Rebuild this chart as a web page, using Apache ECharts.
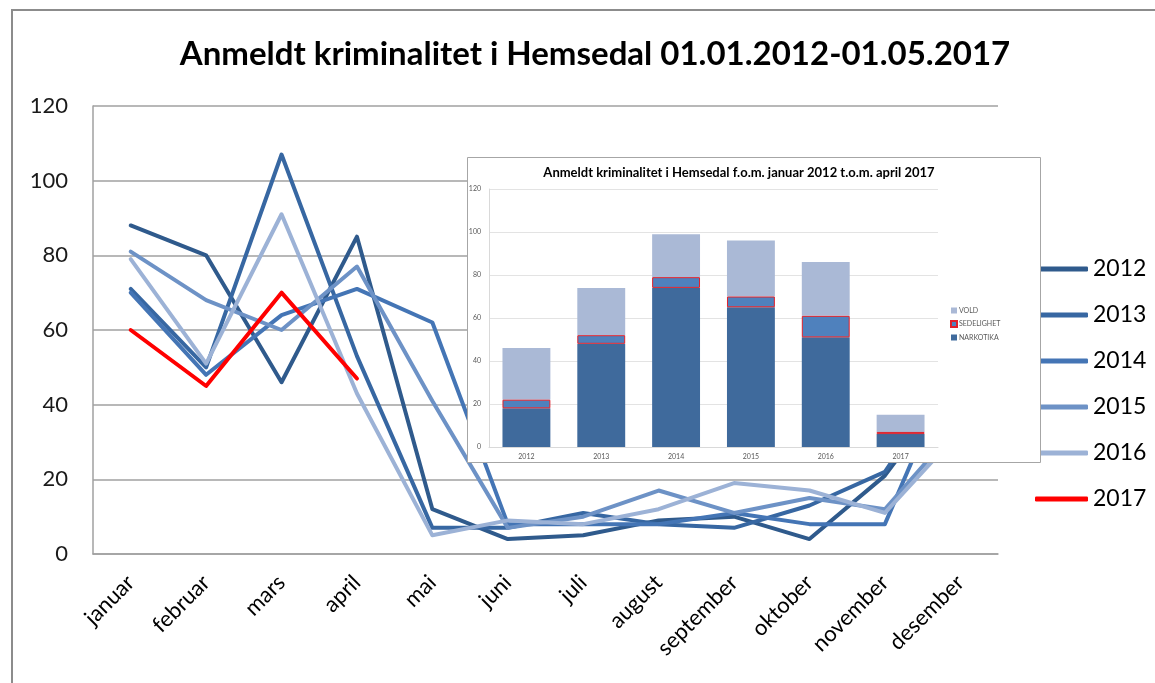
<!DOCTYPE html>
<html>
<head>
<meta charset="utf-8">
<script src="https://cdn.jsdelivr.net/npm/echarts@6/dist/echarts.min.js"></script>
<style>html,body{margin:0;padding:0;background:#fff;}#c{width:1155px;height:683px;}</style>
</head>
<body>
<div id="c"></div>
<script>
// ---- Main line chart data ----
var months = ['januar','februar','mars','april','mai','juni','juli','august','september','oktober','november','desember'];
var years = ['2012','2013','2014','2015','2016','2017'];
var s2012 = [88, 80, 46, 85, 12, 4, 5, 9, 10, 4, 21, 48];
var s2013 = [71, 50, 107, 53, 7, 7, 11, 8, 7, 13, 22, 52];
var s2014 = [70, 48, 64, 71, 62, 8, 8, 8, 11, 8, 8, 55];
var s2015 = [81, 68, 60, 77, 41, 7, 10, 17, 11, 15, 12, 35];
var s2016 = [79, 51, 91, 43, 5, 9, 8, 12, 19, 17, 11, 33];
var s2017 = [60, 45, 70, 47];
var yTicks = [0, 20, 40, 60, 80, 100, 120];

// ---- Inset bar chart data ----
var barYears = ['2012','2013','2014','2015','2016','2017'];
var narkotika = [18, 48, 74, 65, 51, 6];
var sedelighet = [4, 4, 5, 5, 10, 1];
var vold = [24, 22, 20, 26, 25, 8];

var lineColors = ['#2f5a8c', '#3767a2', '#4475b5', '#6d92c6', '#9cb2d6', '#ff0000'];
var lineData = [s2012, s2013, s2014, s2015, s2016, s2017];
var FONT = 'Lato';

var series = years.map(function (y, i) {
  return {
    name: y, type: 'line', data: lineData[i], xAxisIndex: 0, yAxisIndex: 0,
    symbol: 'none', smooth: false, z: 2 + i,
    lineStyle: { width: 4, color: lineColors[i], cap: 'round', join: 'round' },
    itemStyle: { color: lineColors[i] }
  };
});

series.push({
  name: 'NARKOTIKA', type: 'bar', stack: 'k', data: narkotika, xAxisIndex: 1, yAxisIndex: 1,
  zlevel: 1, z: 10, barWidth: '64%', itemStyle: { color: '#3f6a9c' }
});
series.push({
  name: 'SEDELIGHET', type: 'bar', stack: 'k', data: sedelighet, xAxisIndex: 1, yAxisIndex: 1,
  zlevel: 1, z: 11, itemStyle: { color: '#4f81bd', borderColor: '#e0202a', borderWidth: 1 }
});
series.push({
  name: 'VOLD', type: 'bar', stack: 'k', data: vold, xAxisIndex: 1, yAxisIndex: 1,
  zlevel: 1, z: 10, itemStyle: { color: '#aab9d6' }
});

var chart = echarts.init(document.getElementById('c'), null, { renderer: 'canvas' });
chart.setOption({
  animation: false,
  backgroundColor: '#fff',
  textStyle: { fontFamily: FONT },
  title: [
    { text: 'Anmeldt kriminalitet i Hemsedal 01.01.2012-01.05.2017', left: 590, textAlign: 'center', top: 33,
      textStyle: { fontFamily: FONT, fontSize: 33, fontWeight: 'bold', color: '#000' } },
    { text: 'Anmeldt kriminalitet i Hemsedal f.o.m. januar 2012 t.o.m. april 2017', left: 734, textAlign: 'center', top: 161,
      zlevel: 1, z: 20,
      textStyle: { fontFamily: FONT, fontSize: 13, fontWeight: 'bold', color: '#000' } }
  ],
  graphic: { elements: [
    { type: 'rect', zlevel: 0, z: -10, shape: { x: 12, y: 10, width: 1170, height: 700 },
      style: { fill: 'none', stroke: '#8c8c8c', lineWidth: 2 } },
    { type: 'rect', zlevel: 1, z: 0, shape: { x: 467.5, y: 157.5, width: 573, height: 305 },
      style: { fill: '#fff', stroke: '#a6a6a6', lineWidth: 1 } }
  ] },
  legend: [
    { data: years, orient: 'vertical', left: 1030, top: 251, icon: 'roundRect', itemWidth: 53, itemHeight: 5,
      itemGap: 20, textStyle: { fontFamily: FONT, fontSize: 23, color: '#000', lineHeight: 26 } },
    { data: ['VOLD', 'SEDELIGHET', 'NARKOTIKA'], orient: 'vertical', left: 945, top: 302, zlevel: 1, z: 20,
      itemWidth: 6, itemHeight: 6, itemGap: 6, icon: 'rect',
      textStyle: { fontFamily: FONT, fontSize: 7, color: '#595959', padding: [0, 0, 0, -3] } }
  ],
  grid: [
    { left: 93, right: 157, top: 106, bottom: 129, containLabel: false },
    { left: 489, right: 217, top: 189, bottom: 236, containLabel: false, zlevel: 1, z: 5 }
  ],
  xAxis: [
    { type: 'category', data: months, gridIndex: 0, boundaryGap: true,
      axisLine: { show: true, lineStyle: { color: '#a0a0a0', width: 1.5 } },
      axisTick: { show: false },
      axisLabel: { rotate: 45, fontSize: 22, color: '#000', margin: 25, interval: 0, fontFamily: FONT } },
    { type: 'category', data: barYears, gridIndex: 1, boundaryGap: true, zlevel: 1, z: 15,
      axisLine: { show: true, lineStyle: { color: '#d9d9d9', width: 1 } },
      axisTick: { show: false },
      axisLabel: { fontSize: 7, color: '#595959', margin: 6, fontFamily: FONT } }
  ],
  yAxis: [
    { type: 'value', gridIndex: 0, min: yTicks[0], max: yTicks[yTicks.length - 1], interval: 20,
      axisLine: { show: true, lineStyle: { color: '#a0a0a0', width: 1.5 } },
      axisTick: { show: false },
      splitLine: { show: true, lineStyle: { color: '#a0a0a0', width: 1.5 } },
      axisLabel: { fontSize: 22, color: '#1a1a1a', margin: 25, fontFamily: FONT } },
    { type: 'value', gridIndex: 1, min: 0, max: 120, interval: 20, zlevel: 1, z: 6,
      axisLine: { show: true, lineStyle: { color: '#d9d9d9', width: 1 } },
      axisTick: { show: false },
      splitLine: { show: true, lineStyle: { color: '#e3e3e3', width: 1 } },
      axisLabel: { fontSize: 7, color: '#595959', margin: 8, fontFamily: FONT } }
  ],
  series: series
});
</script>
</body>
</html>
